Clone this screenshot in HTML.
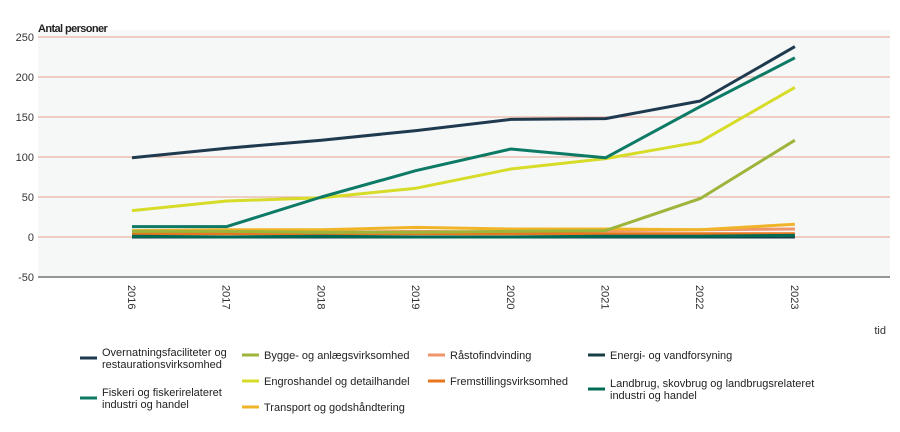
<!DOCTYPE html>
<html><head><meta charset="utf-8"><style>
body{margin:0;background:#fff;width:900px;height:427px;overflow:hidden;font-family:"Liberation Sans",sans-serif}
svg text{font-family:"Liberation Sans",sans-serif}
.leg{font-size:11px;fill:#222}
</style></head><body>
<svg id="chart" width="900" height="427" xmlns="http://www.w3.org/2000/svg">
<rect x="38" y="30" width="852" height="248" fill="#f6f7f7"/>
<text x="38" y="32" font-size="11" font-weight="bold" fill="#222" letter-spacing="-0.6">Antal personer</text>
<text x="886" y="334" font-size="11" fill="#333" text-anchor="end">tid</text>
<g id="grid"></g><g id="lines"></g><g id="legend"></g>
</svg>
<script>
const years=["2016","2017","2018","2019","2020","2021","2022","2023"];
const yTicks=[250,200,150,100,50,0,-50];
const sOvernatning=[99,111,121,133,147,148,170,238];
const sFiskeri=[13,13,50,83,110,99,163,224];
const sEngros=[33,45,49,61,85,98,119,187];
const sBygge=[7,7,6,6,7,8,48,121];
const sTransport=[8,9,9,12,10,10,9,16];
const sRastof=[5,6,6,7,6,8,9,10];
const sFremstilling=[4,4,4,4,4,4,4,4];
const sEnergi=[0,0,0,0,0,0,0,0];
const sLandbrug=[1,0,1,0,0,1,1,2];
const names=["Overnatningsfaciliteter og|restaurationsvirksomhed","Fiskeri og fiskerirelateret|industri og handel","Bygge- og anlægsvirksomhed","Engroshandel og detailhandel","Transport og godshåndtering","Råstofindvinding","Fremstillingsvirksomhed","Energi- og vandforsyning","Landbrug, skovbrug og landbrugsrelateret|industri og handel"];
const series=[sOvernatning,sFiskeri,sBygge,sEngros,sTransport,sRastof,sFremstilling,sEnergi,sLandbrug];
const colors=["#1f3a4f","#0c7a64","#9cb53a","#d6dc28","#f0b428","#f0946a","#e8761e","#173f44","#006b55"];
const legPos=[[80,358],[80,398],[242,355],[242,381],[242,407],[428,355],[428,381],[588,355],[588,389]];
const drawOrder=[5,6,4,2,3,1,0,7,8];
const NS="http://www.w3.org/2000/svg";
const x=i=>132+i*94.7;
const y=v=>237-v*0.8;
function el(t,a,p){const e=document.createElementNS(NS,t);for(const k in a)e.setAttribute(k,a[k]);p.appendChild(e);return e;}
const grid=document.getElementById('grid'),lines=document.getElementById('lines'),leg=document.getElementById('legend');
yTicks.forEach(t=>{
  const l=el('line',{x1:38,x2:890,y1:y(t),y2:y(t),stroke:t===-50?'#333':'#e7a58c','stroke-width':1},grid);
  
  
  const tx=el('text',{x:34,y:y(t)+4,'font-size':11,fill:'#333','text-anchor':'end'},grid);
  tx.textContent=t;
  
  
});
years.forEach((yr,i)=>{
  const tx=el('text',{x:0,y:0,'font-size':11,fill:'#333',transform:`translate(${x(i)-4},285) rotate(90)`},grid);
  tx.textContent=yr;
  
  
});
drawOrder.forEach(k=>{
  const pts=series[k].map((v,i)=>x(i)+','+y(v)).join(' ');
  const p=el('polyline',{points:pts,fill:'none',stroke:colors[k],'stroke-width':3,'stroke-linejoin':'round'},lines);
  
  
});
names.forEach((n,k)=>{
  const [lx,ly]=legPos[k];
  const g=el('g',{},leg);
  
  
  el('rect',{x:lx,y:ly-1.5,width:17,height:3,fill:colors[k]},g);
  const parts=n.split('|');
  parts.forEach((s,j)=>{
    const t=el('text',{x:lx+22,y:ly+4+(parts.length>1?(j-0.5)*12:0),class:'leg',textLength:0},g);
    t.removeAttribute('textLength');
    t.textContent=s;
  });
});
</script>
</body></html>
